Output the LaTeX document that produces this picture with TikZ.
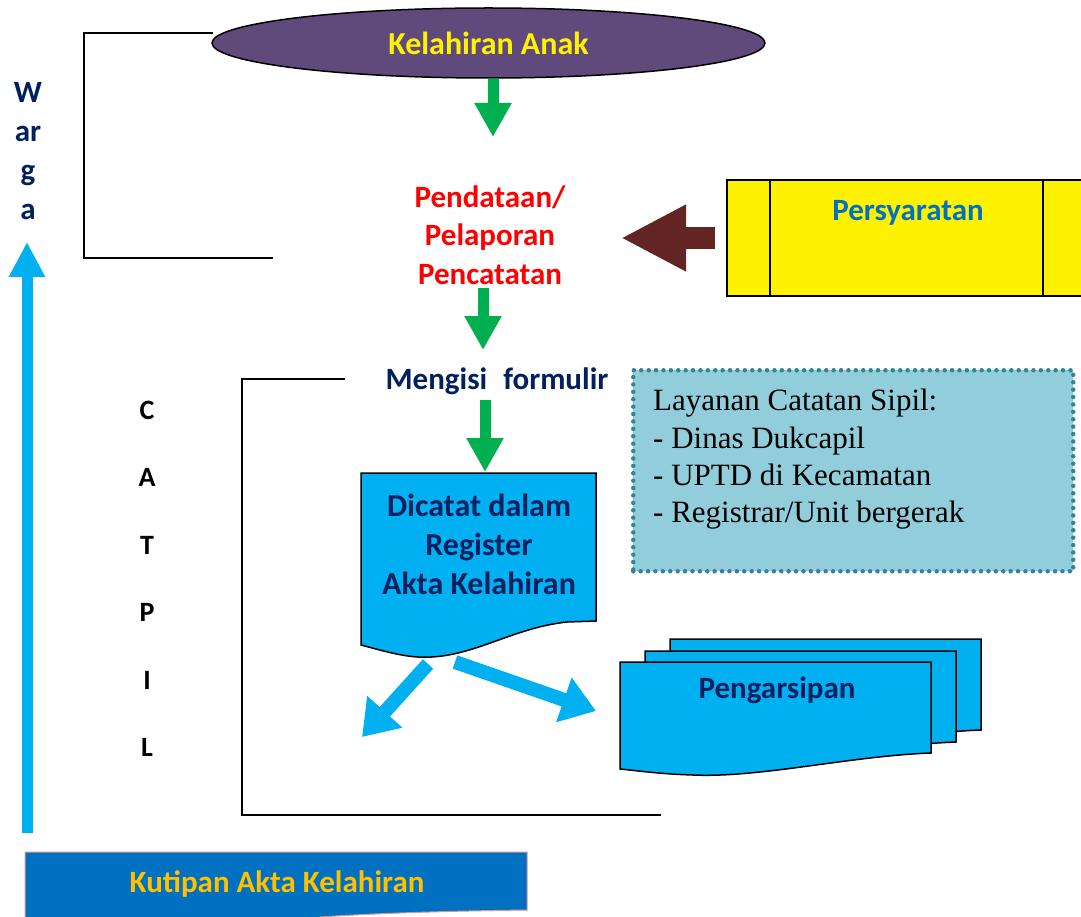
\documentclass[tikz,border=0pt]{standalone}
\usepackage{fontspec}
\setmainfont{Carlito}
\newfontfamily\timesfont{Liberation Serif}
\usetikzlibrary{shapes.geometric, arrows.meta, positioning, calc}

\definecolor{ungu}{HTML}{604A7B}
\definecolor{hijau}{HTML}{00B050}
\definecolor{coklat}{HTML}{632523}
\definecolor{navy}{HTML}{002060}
\definecolor{biru}{HTML}{00B0F0}
\definecolor{birutua}{HTML}{0070C0}
\definecolor{emas}{HTML}{FFC000}
\definecolor{tosca}{HTML}{92CDDC}
\definecolor{tepi}{HTML}{31849B}
\definecolor{merahmuda}{HTML}{D99594}

\begin{document}
\begin{tikzpicture}[
    x=1pt, y=-1pt,
    judul/.style={font=\fontsize{31}{38.5}\selectfont\bfseries, align=center, inner sep=0pt},
    greenarrow/.style={draw=hijau, line width=11pt, -{Triangle[length=34pt, width=35pt]}},
    bluearrow/.style={draw=biru, line width=14pt, -{Triangle[length=34pt, width=45pt]}},
    brownarrow/.style={draw=coklat, line width=22pt, -{Triangle[length=65pt, width=62pt]}},
    bracket/.style={draw, line width=2pt},
    docshape/.style={draw, line width=1.5pt, fill=biru}
]
\useasboundingbox (0,0) rectangle (1081,917);
\fill[white] (0,0) rectangle (1081,917);
\clip (0,0) rectangle (1081,917);

% Brackets
\coordinate (b1a) at (213,33);
\coordinate (b1b) at (273,258);
\draw[bracket] (b1a) -- (84,33) -- (84,258) -- (b1b);
\coordinate (b2a) at (345,379);
\coordinate (b2b) at (661,815);
\draw[bracket] (b2a) -- (242,379) -- (242,815) -- (b2b);

% Main flow
\node[ellipse, draw, line width=1.5pt, fill=ungu, minimum width=553pt, minimum height=70pt,
      inner sep=0pt, text=yellow, font=\fontsize{32}{38}\selectfont\bfseries] (lahir) at (488.5,43) {Kelahiran Anak};
\node[judul, text=red] (data) at (490,235) {Pendataan/\\Pelaporan\\Pencatatan};
\node[judul, text=navy] (isi) at (497,381) {Mengisi\hspace{16pt}formulir};

\draw[docshape] (361,473) -- (596,473) -- (596,621) -- (567,622)
    .. controls (510,628) and (470,660) .. (418,657)
    .. controls (400,656) and (380,650) .. (361,645) -- cycle;
\node[judul, text=navy, font=\fontsize{32}{39}\selectfont\bfseries] (catat) at (479,544) {Dicatat dalam\\Register\\Akta Kelahiran};

% Pengarsipan stack
\foreach \dx/\dy in {50/-23, 25/-11, 0/0} {
  \draw[docshape, shift={(\dx,\dy)}] (620,662) -- (931,662) -- (931,753)
      .. controls (850,756) and (760,778) .. (693,775)
      .. controls (660,774) and (640,771) .. (620,769) -- cycle;
}
\node[judul, text=navy] (arsip) at (777,690) {Pengarsipan};

% Persyaratan
\node[draw, line width=2pt, fill=yellow, minimum width=363pt, minimum height=116pt] (syarat) at (908.5,238) {};
\draw[line width=1.5pt] ([xshift=44pt]syarat.north west) -- ([xshift=44pt]syarat.south west);
\draw[line width=1.5pt] ([xshift=317pt]syarat.north west) -- ([xshift=317pt]syarat.south west);
\node[judul, text=birutua] (syaratteks) at (908,213) {Persyaratan};

% Layanan
\node[draw=tepi, fill=tosca, line width=4.5pt, dash pattern=on 0pt off 7.4pt, line cap=round,
      minimum width=440pt, minimum height=201pt, anchor=north west] (sipil) at (631,368) {};
\node[anchor=north west, inner sep=0pt, align=left,
      font=\timesfont\fontsize{31}{37.3}\selectfont] (sipilteks) at (653,389)
  {Layanan Catatan Sipil:\\- Dinas Dukcapil\\- UPTD di Kecamatan\\- Registrar/Unit bergerak};

% Kutipan
\draw[draw=merahmuda, fill=birutua, line width=1pt] (25,852) -- (527,852) -- (527,910)
    .. controls (450,911) and (380,913) .. (320,917) -- (260,940) -- (25,940) -- cycle;
\node[judul, text=emas] (kutipan) at (277,884) {Kutipan Akta Kelahiran};

% Side labels
\node[judul, text=navy, font=\fontsize{31}{39}\selectfont\bfseries, anchor=north] (warga) at (28,82) {W\\ar\\g\\a};
\node[judul, font=\fontsize{28}{67.4}\selectfont\bfseries, anchor=north] (catpil) at (147,401) {C\\A\\T\\P\\I\\L};

% Arrows
\coordinate (t1) at (493,137);
\coordinate (t2) at (483,350);
\coordinate (t3) at (485,472);
\coordinate (t4) at (621,238);
\coordinate (t5) at (362,737);
\coordinate (t6) at (596,711);
\coordinate (t7) at (27,242);
\draw[greenarrow] (lahir.south -| t1) -- (t1);
\draw[greenarrow] (483,288) -- (t2);
\draw[greenarrow] (485,400) -- (t3);
\draw[brownarrow] ([xshift=-11pt]syarat.west) -- (t4);
\draw[bluearrow] (428,664) -- (t5);
\draw[bluearrow] (455,662) -- (t6);
\draw[draw=biru, line width=11pt, -{Triangle[length=35pt, width=34pt]}] (27,833) -- (t7);

\end{tikzpicture}
\end{document}
